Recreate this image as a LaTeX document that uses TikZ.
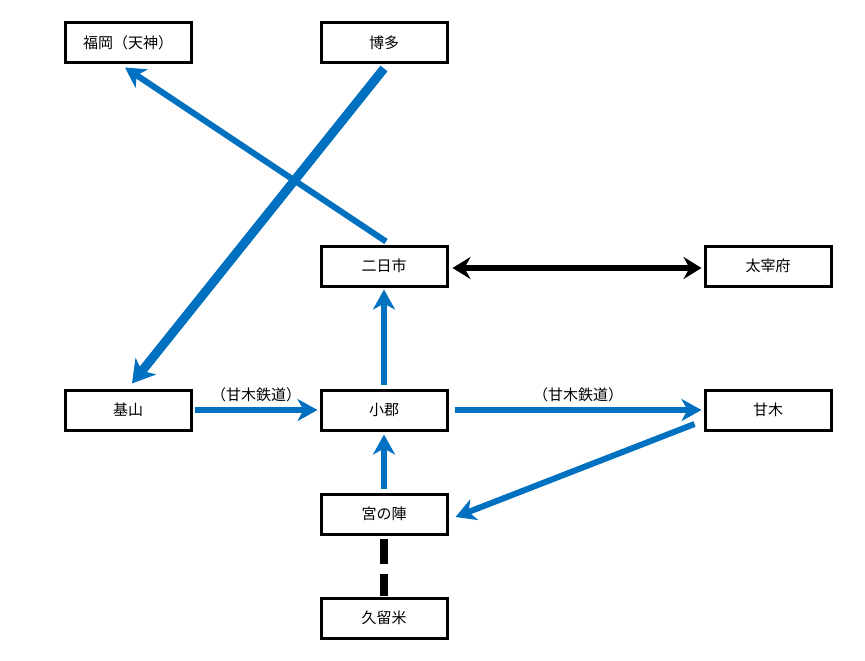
\documentclass[tikz,border=0pt]{standalone}
\usepackage{fontspec}
\newfontfamily\cjk{Noto Sans CJK JP}
\usetikzlibrary{arrows.meta,calc}
\definecolor{lineblue}{HTML}{0070C0}
\tikzset{
  station/.style={draw=black, line width=3pt, minimum width=126pt, minimum height=40pt, inner sep=0pt, font=\cjk\fontsize{15}{17}\selectfont, fill=white},
  bluearrow/.style={draw=lineblue, line width=6pt, -{Stealth[length=20pt,width=22pt,inset=6pt]}},
  bigarrow/.style={draw=lineblue, line width=9pt, -{Stealth[length=22pt,width=26pt,inset=6pt]}},
  blackarrow/.style={draw=black, line width=6pt, {Stealth[length=18pt,width=22pt,inset=6pt]}-{Stealth[length=18pt,width=22pt,inset=6pt]}},
  blackdash/.style={draw=black, line width=8pt, dash pattern=on 25pt off 10pt},
  lbl/.style={font=\cjk\fontsize{15}{17}\selectfont, inner sep=0pt}
}
\begin{document}
\begin{tikzpicture}[x=1pt,y=-1pt]
\useasboundingbox (0,0) rectangle (865,661);
\fill[white] (0,0) rectangle (865,661);
\node[station] (fukuoka) at (128,43) {福岡（天神）};
\node[station] (hakata) at (384,43) {博多};
\node[station] (futsuka) at (384,266) {二日市};
\node[station] (dazaifu) at (768,266) {太宰府};
\node[station] (kiyama) at (128,410) {基山};
\node[station] (ogori) at (384,410) {小郡};
\node[station] (amagi) at (768,410) {甘木};
\node[station] (miya) at (384,514) {宮の陣};
\node[station] (kurume) at (384,618) {久留米};

\draw[bluearrow] ($(futsuka.north)+(2,-3)$) -- ($(fukuoka.south)+(-3,3)$);
\draw[bigarrow] ($(hakata.south)+(0,4)$) -- ($(kiyama.north)+(4,-5)$);
\draw[blackarrow] ($(futsuka.east)+(4,2)$) -- ($(dazaifu.west)+(-2,2)$);
\draw[bluearrow] ($(ogori.north)+(0,-4)$) -- ($(futsuka.south)+(0,2)$);
\draw[bluearrow] ($(kiyama.east)+(2,0)$) -- node[lbl, above=5pt] {（甘木鉄道）} ($(ogori.west)+(-2,0)$);
\draw[bluearrow] ($(ogori.east)+(6,0)$) -- node[lbl, above=5pt] {（甘木鉄道）} ($(amagi.west)+(-2,0)$);
\draw[bluearrow] ($(amagi.west)+(-9,14)$) -- ($(miya.east)+(7,3)$);
\draw[bluearrow] ($(miya.north)+(0,-4)$) -- ($(ogori.south)+(0,3)$);
\draw[blackdash] ($(miya.south)+(0,3)$) -- ($(kurume.north)+(0,-1)$);
\end{tikzpicture}
\end{document}
